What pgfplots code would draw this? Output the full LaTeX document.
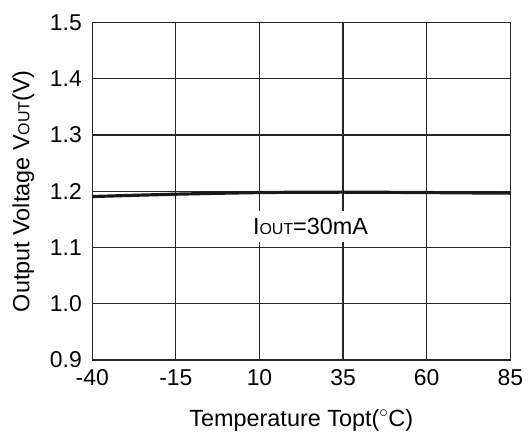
\documentclass[border=0pt]{standalone}
\usepackage{pgfplots}
\pgfplotsset{compat=1.18}
\usepackage{fontspec}
\setmainfont{Liberation Sans}
\newcommand{\sub}[1]{{\fontsize{16}{16}\selectfont #1}}
\begin{document}
\begin{tikzpicture}
\useasboundingbox (-92.3bp,-72bp) rectangle (435.7bp,360bp);
\begin{axis}[
  at={(0,0)}, anchor=south west,
  scale only axis, width=418bp, height=337.5bp,
  xmin=-40, xmax=85, ymin=0.9, ymax=1.5,
  xtick={-40,-15,10,35,60,85},
  ytick={0.9,1.0,...,1.5},
  y tick label style={/pgf/number format/fixed, /pgf/number format/fixed zerofill, /pgf/number format/precision=1},
  /pgf/number format/assume math mode=true,
  major tick length=0pt,
  grid=major,
  major grid style={line width=1.2pt, black!85},
  axis line style={line width=1.2pt, black!85},
  tick label style={font=\fontsize{23}{27}\selectfont},
  label style={font=\fontsize{23.5}{27}\selectfont},
  xticklabel style={yshift=-6bp},
  yticklabel style={xshift=-7bp},
  xlabel={Temperature Topt($^\circ$C)},
  ylabel={Output Voltage V\sub{OUT}(V)},
  xlabel style={at={(axis description cs:0.5,0)}, anchor=center, yshift=-60bp},
  ylabel style={at={(axis description cs:-0.165,0.5)}, anchor=center},
]
\addplot[line width=3.2pt, black!90] coordinates {
  (-40,1.1906) (-27.5,1.1928) (-15,1.1948) (-2.5,1.1964) (10,1.1977) (22.5,1.1983) (35,1.1984) (47.5,1.1981) (60,1.1977) (72.5,1.1971) (85,1.1966)
};
\node[fill=white, inner xsep=4bp, inner ysep=7bp, font=\fontsize{23.5}{27}\selectfont] at (axis cs:25.25,1.1375) {I\sub{OUT}=30mA};
\end{axis}
\end{tikzpicture}
\end{document}
